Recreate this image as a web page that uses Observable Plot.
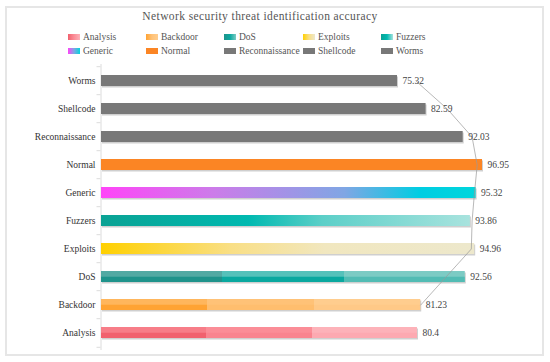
<!DOCTYPE html>
<html><head><meta charset="utf-8">
<script src="https://cdn.jsdelivr.net/npm/d3@7"></script>
<script src="https://cdn.jsdelivr.net/npm/@observablehq/plot@0.6"></script>
<style>
body{margin:0;background:#fff;font-family:"Liberation Serif",serif;}
#wrap{position:relative;width:550px;height:362px;overflow:hidden;}
#frame{position:absolute;left:5px;top:6px;width:535px;height:346px;border:2px solid #e6e6e6;}
#title{position:absolute;top:10px;left:0;width:520px;text-align:center;font-family:"Liberation Serif",serif;font-size:11.5px;letter-spacing:0.4px;color:#555;}
.leg{position:absolute;height:12px;font-family:"Liberation Serif",serif;font-size:9.5px;color:#555;display:flex;align-items:center;white-space:nowrap;}
.sw{width:12px;height:6px;margin-right:3px;flex:none;}
#chart{position:absolute;left:0;top:56px;}
#chart svg, #chart svg text{font-family:"Liberation Serif",serif !important;}
</style>
</head><body>
<div id="wrap">
  <div id="frame"></div>
  <div id="title">Network security threat identification accuracy</div>
  <div id="legend"></div>
  <div id="chart"></div>
</div>
<script>
// ---- data ----
const categories = ["Worms","Shellcode","Reconnaissance","Normal","Generic","Fuzzers","Exploits","DoS","Backdoor","Analysis"];
const accuracy = [75.32, 82.59, 92.03, 96.95, 95.32, 93.86, 94.96, 92.56, 81.23, 80.4];
const valueLabels = ["75.32","82.59","92.03","96.95","95.32","93.86","94.96","92.56","81.23","80.4"];
const legendOrder = ["Analysis","Backdoor","DoS","Exploits","Fuzzers","Generic","Normal","Reconnaissance","Shellcode","Worms"];
const trendCategories = ["Worms","Shellcode","Reconnaissance","Normal","Generic","Fuzzers","Exploits","Backdoor"];
const trendValues = [80.0, 88.0, 94.3, 95.6, 94.9, 94.3, 94.1, 81.23];

// ---- styles ----
const seg = (a,b,c) => [[0,a],[0.333,a],[0.333,b],[0.667,b],[0.667,c],[1,c]];
const fills = {
  Worms: {top:[[0,"#787878"],[1,"#787878"]]},
  Shellcode: {top:[[0,"#787878"],[1,"#787878"]]},
  Reconnaissance: {top:[[0,"#787878"],[1,"#787878"]]},
  Normal: {top:[[0,"#fb8524"],[1,"#fb8524"]]},
  Generic: {top:[[0,"#ff44f8"],[0.3,"#cc7be9"],[0.65,"#80a6e4"],[0.85,"#00cde2"],[1,"#00d6dc"]]},
  Fuzzers: {top:[[0,"#0aa294"],[0.4,"#00b9b0"],[0.6,"#5ccfc8"],[1,"#a8e3de"]]},
  Exploits: {top:[[0,"#ffd000"],[0.35,"#f9df86"],[0.6,"#f1e7bf"],[1,"#ede8cc"]]},
  DoS: {top: seg("#52a9a3","#55c1ba","#7ccbc4"), bottom: seg("#1f938b","#0aa89f","#52bcb4")},
  Backdoor: {top: seg("#ffb65c","#ffc277","#ffcd8e"), bottom: seg("#ffa333","#ffbe6e","#ffc987")},
  Analysis: {top: seg("#f77d88","#fb8d97","#fdb2b9"), bottom: seg("#f1616e","#f9848f","#fda9b1")}
};
const legendCss = {
  Analysis:"linear-gradient(90deg,#f1616e,#fb8d97,#fdb2b9)",
  Backdoor:"linear-gradient(90deg,#ffa333,#ffc277,#ffcd8e)",
  DoS:"linear-gradient(90deg,#1f938b,#0aa89f,#7ccbc4)",
  Exploits:"linear-gradient(90deg,#ffd000,#f9df86,#ede8cc)",
  Fuzzers:"linear-gradient(90deg,#0aa294,#00b9b0,#a8e3de)",
  Generic:"linear-gradient(90deg,#ff44f8,#80a6e4,#00d6dc)",
  Normal:"#fb8524", Reconnaissance:"#787878", Shellcode:"#787878", Worms:"#787878"
};

// ---- legend ----
const legX = [68,146,224,303,381], legY = [37,51];
const legend = document.getElementById("legend");
legendOrder.forEach((name,i) => {
  const d = document.createElement("div");
  d.className = "leg";
  d.style.left = legX[i%5] + "px";
  d.style.top = (legY[Math.floor(i/5)] - 6) + "px";
  d.innerHTML = `<div class="sw" style="background:${legendCss[name]}"></div>${name}`;
  legend.appendChild(d);
});

// ---- chart ----
const rows = categories.map((c,i) => ({cat:c, v:accuracy[i], label:valueLabels[i], i}));
const trend = trendCategories.map((c,i) => ({cat:c, v:trendValues[i]}));
const H = 300, MT = 8, MB = 6;
const step = (H - MT - MB) / categories.length;
const bw = step * 0.4;

const chart = Plot.plot({
  width: 550, height: H,
  marginLeft: 101, marginRight: 56, marginTop: MT, marginBottom: MB,
  style: {fontFamily: "'Liberation Serif', serif", fontSize: "9.5px", color: "#333", background: "transparent"},
  x: {domain: [0, 100], axis: null},
  y: {domain: categories, paddingInner: 0.6, paddingOuter: 0.3, axis: null},
  color: {type: "identity"},
  marks: [
    Plot.ruleX([0], {stroke: "#dcdcdc", dx: -0.5}),
    Plot.ruleY(categories, {y: d => d, x1: 0, x2: 0, insetLeft: -4, dx: -0.5, dy: -step/2, stroke: "#dcdcdc"}),
    Plot.ruleY(categories.slice(-1), {y: d => d, x1: 0, x2: 0, insetLeft: -4, dx: -0.5, dy: step/2, stroke: "#dcdcdc"}),
    Plot.axisY({tickSize: 0, tickPadding: 6, fill: "#333", fontSize: 9.5, label: null}),
    Plot.barX(rows, {y: "cat", x: "v", fill: "#cfcfcf", dy: 1.5, dx: 1}),
    Plot.barX(rows, {y: "cat", x: "v", fill: d => `url(#gt${d.i})`}),
    Plot.barX(rows.filter(d => fills[d.cat].bottom), {y: "cat", x: "v", insetTop: bw/2, fill: d => `url(#gb${d.i})`}),
    Plot.line(trend, {y: "cat", x: "v", stroke: "#999", strokeWidth: 0.7}),
    Plot.text(rows, {y: "cat", x: "v", text: "label", dx: 5, textAnchor: "start", fill: "#444", fontSize: 9.5})
  ]
});

// gradient definitions
const defs = d3.create("svg:defs");
rows.forEach(d => {
  const f = fills[d.cat];
  [["gt", f.top], ["gb", f.bottom]].forEach(([p, stops]) => {
    if (!stops) return;
    const g = defs.append("linearGradient").attr("id", p + d.i).attr("x1", 0).attr("x2", 1).attr("y1", 0).attr("y2", 0);
    stops.forEach(([o, c]) => g.append("stop").attr("offset", o).attr("stop-color", c));
  });
});
chart.insertBefore(defs.node(), chart.firstChild);
document.getElementById("chart").appendChild(chart);
</script>
</body></html>
